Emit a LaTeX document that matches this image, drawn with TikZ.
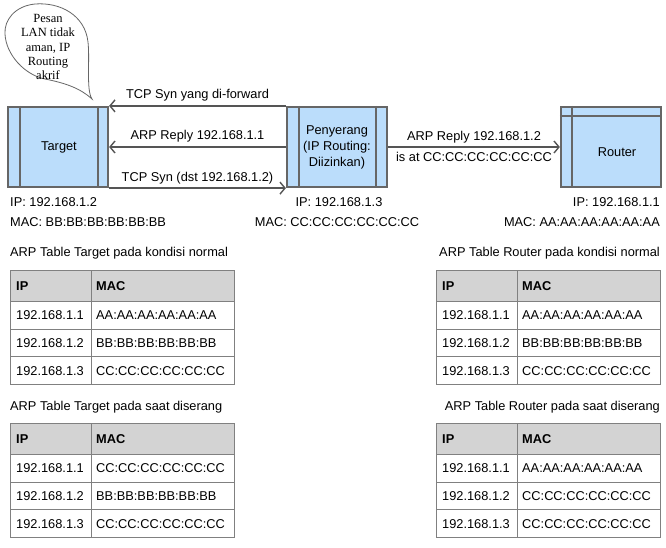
\documentclass[tikz,border=0pt]{standalone}
\usepackage{fontspec}
\setmainfont{Liberation Sans}
\newfontfamily\bubblefont{Liberation Serif}
\usetikzlibrary{arrows.meta}
\definecolor{boxfill}{HTML}{BBDDFB}
\definecolor{boxline}{HTML}{666666}
\definecolor{connline}{HTML}{555555}
\definecolor{hdrfill}{HTML}{D3D3D3}
\definecolor{tabcol}{HTML}{808080}
\newcommand\txtsize{\fontsize{12.8}{15}\selectfont}
\tikzset{
  hostbox/.style={draw=boxline, line width=2.2pt, fill=boxfill, minimum width=100pt, minimum height=80pt, inner sep=0pt},
  innerline/.style={draw=boxline, line width=1.4pt},
  conn/.style={draw=connline, line width=1.4pt, -{Straight Barb[length=5pt,width=12pt,line width=1.4pt]}},
  lbl/.style={font=\txtsize, inner sep=0pt},
  tabline/.style={draw=tabcol, line width=0.9pt},
  cell/.style={font=\txtsize, inner sep=0pt, anchor=west},
  hcell/.style={font=\txtsize\bfseries, inner sep=0pt, anchor=west}
}
\newcommand\arptab[6]{%
\begin{scope}[shift={(#2,#3)}]
  \fill[hdrfill] (0,0) rectangle (224,31.5);
  \foreach \yy in {31.5,59.2,86.9} \draw[tabline] (0,\yy) -- (224,\yy);
  \draw[tabline] (81,0) -- (81,114.6);
  \draw[tabline] (0,0) rectangle (224,114.6);
  \node[hcell] (#1h1) at (6,15.75) {IP};
  \node[hcell] (#1h2) at (86,15.75) {MAC};
  \node[cell] (#1a1) at (6,45.35) {192.168.1.1};
  \node[cell] (#1a2) at (86,45.35) {#4};
  \node[cell] (#1b1) at (6,73.05) {192.168.1.2};
  \node[cell] (#1b2) at (86,73.05) {#5};
  \node[cell] (#1c1) at (6,100.75) {192.168.1.3};
  \node[cell] (#1c2) at (86,100.75) {#6};
\end{scope}}
\begin{document}
\begin{tikzpicture}[x=1pt,y=-1pt]
\useasboundingbox (0,0) rectangle (666,547);
\fill[white] (0,0) rectangle (666,547);

% speech bubble
\draw[draw=boxline, line width=0.8pt, fill=white]
  (92,99) .. controls (86,90) and (90,60) .. (88,42)
  .. controls (85,15) and (60,2) .. (35,4)
  .. controls (15,6) and (4,20) .. (5,34)
  .. controls (6,55) and (25,75) .. (45,79)
  .. controls (65,83) and (80,88) .. (92,99) -- cycle;
\node[align=center, inner sep=0pt, font=\bubblefont\fontsize{12.5}{14.3}\selectfont] (bubble) at (48,47)
  {Pesan\\LAN tidak\\aman, IP\\Routing\\akrif};

% hosts
\node[hostbox] (target) at (58,147) {};
\node[hostbox] (penyerang) at (337,147) {};
\node[hostbox] (router) at (611,147) {};

\draw[innerline] ([xshift=13pt]target.north west) -- ([xshift=13pt]target.south west);
\draw[innerline] ([xshift=-11pt]target.north east) -- ([xshift=-11pt]target.south east);
\draw[innerline] ([xshift=13pt]penyerang.north west) -- ([xshift=13pt]penyerang.south west);
\draw[innerline] ([xshift=-12pt]penyerang.north east) -- ([xshift=-12pt]penyerang.south east);
\draw[innerline] ([yshift=-10pt]router.north west) -- ([yshift=-10pt]router.north east);
\draw[innerline] ([xshift=12pt]router.north west) -- ([xshift=12pt]router.south west);

\node[lbl] (targetlbl) at (59,147) {Target};
\node[lbl, align=center, font=\fontsize{12.8}{16}\selectfont] (penylbl) at (337,147) {Penyerang\\(IP Routing:\\Diizinkan)};
\node[lbl] (routerlbl) at (617,152) {Router};

% connectors
\draw[conn] (penyerang.north west) -- node[lbl, midway, yshift=11pt] (c1) {TCP Syn yang di-forward} (target.north east);
\draw[conn] (penyerang.west) -- node[lbl, midway, yshift=11pt] (c2) {ARP Reply 192.168.1.1} (target.east);
\draw[conn] (target.south east) -- node[lbl, midway, yshift=10pt] (c3) {TCP Syn (dst 192.168.1.2)} (penyerang.south west);
\draw[conn] (penyerang.east) -- node[lbl, midway, yshift=10pt] (c4) {ARP Reply 192.168.1.2}
  node[lbl, midway, yshift=-10pt] (c5) {is at CC:CC:CC:CC:CC:CC} (router.west);

% addresses
\node[lbl, anchor=west] (tip) at (10,202) {IP: 192.168.1.2};
\node[lbl, anchor=west] (tmac) at (10,222) {MAC: BB:BB:BB:BB:BB:BB};
\node[lbl] (pip) at (339,202) {IP: 192.168.1.3};
\node[lbl] (pmac) at (337,222) {MAC: CC:CC:CC:CC:CC:CC};
\node[lbl, anchor=east] (rip) at (660,202) {IP: 192.168.1.1};
\node[lbl, anchor=east] (rmac) at (660,222) {MAC: AA:AA:AA:AA:AA:AA};

% table titles
\node[lbl, anchor=west] (t1) at (10,253) {ARP Table Target pada kondisi normal};
\node[lbl, anchor=east] (t2) at (660,253) {ARP Table Router pada kondisi normal};
\node[lbl, anchor=west] (t3) at (10,407) {ARP Table Target pada saat diserang};
\node[lbl, anchor=east] (t4) at (660,407) {ARP Table Router pada saat diserang};

% tables
\arptab{tn}{10}{270}{AA:AA:AA:AA:AA:AA}{BB:BB:BB:BB:BB:BB}{CC:CC:CC:CC:CC:CC}
\arptab{rn}{436}{270}{AA:AA:AA:AA:AA:AA}{BB:BB:BB:BB:BB:BB}{CC:CC:CC:CC:CC:CC}
\arptab{ta}{10}{423}{CC:CC:CC:CC:CC:CC}{BB:BB:BB:BB:BB:BB}{CC:CC:CC:CC:CC:CC}
\arptab{ra}{436}{423}{AA:AA:AA:AA:AA:AA}{CC:CC:CC:CC:CC:CC}{CC:CC:CC:CC:CC:CC}
\end{tikzpicture}
\end{document}
